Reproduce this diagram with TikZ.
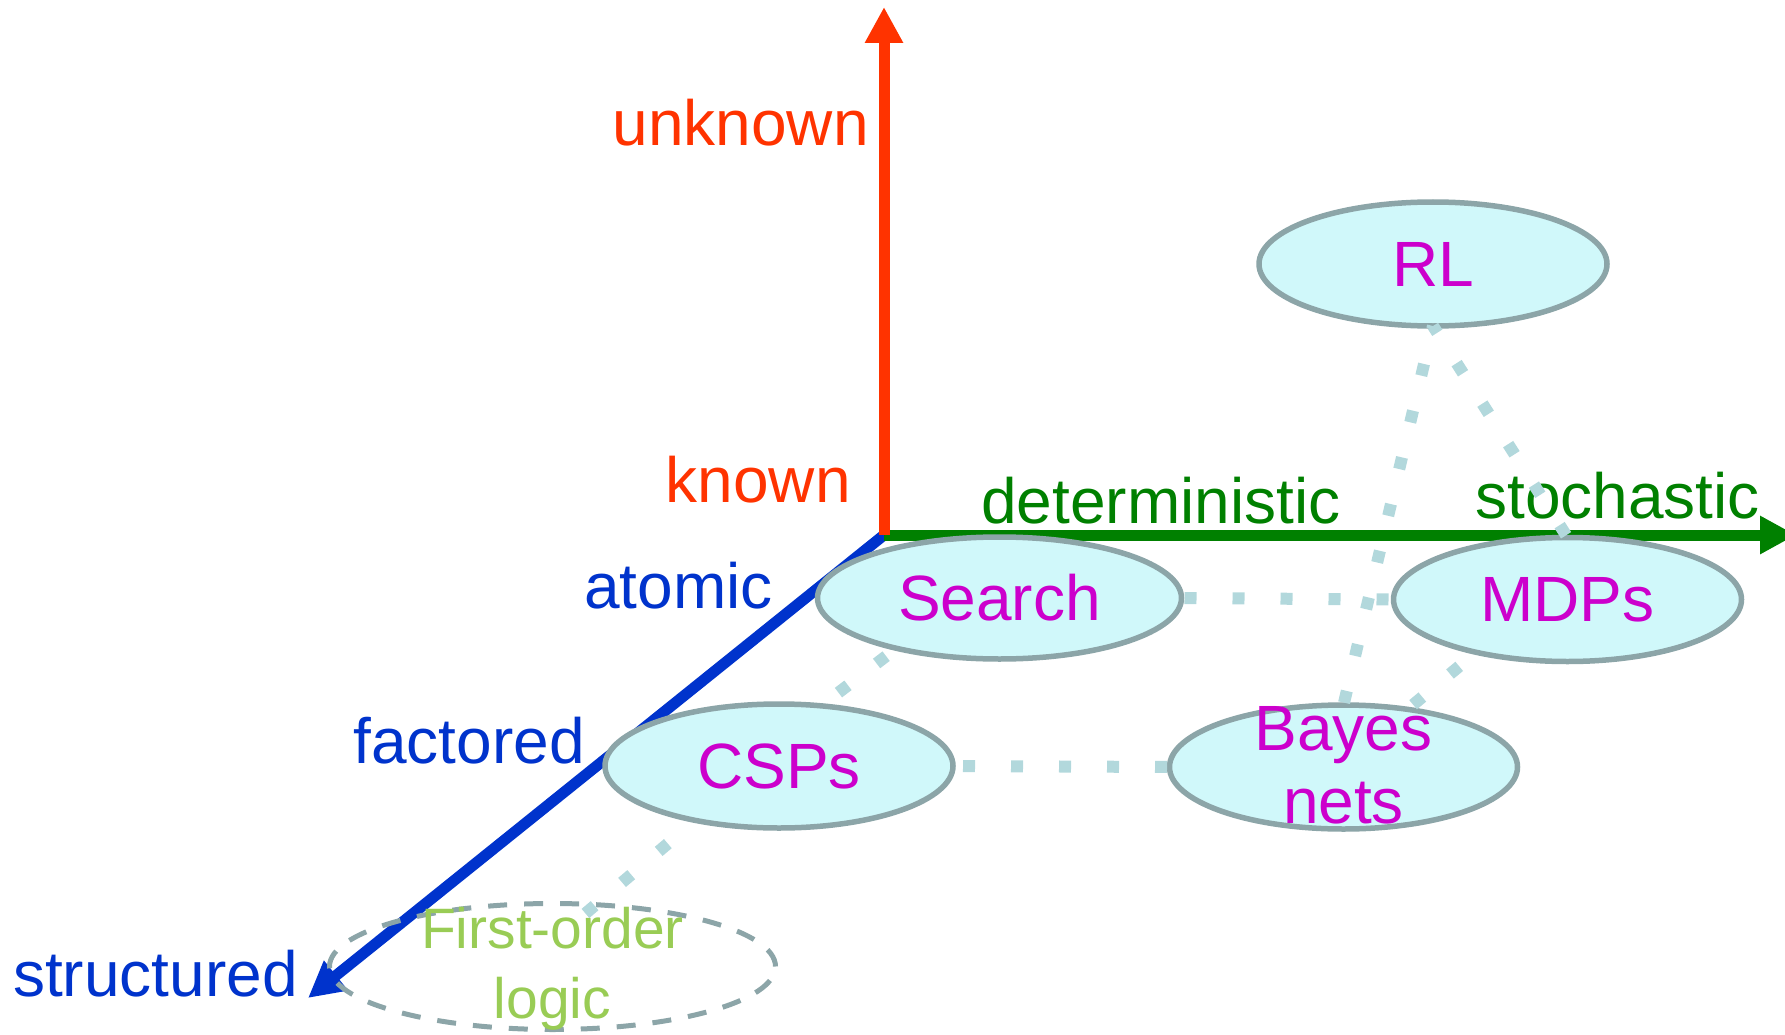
\documentclass[tikz,border=0pt]{standalone}
\usepackage{fontspec}
\setmainfont{Liberation Sans}
\usetikzlibrary{arrows.meta,shapes.geometric}

\definecolor{axisred}{RGB}{255,51,0}
\definecolor{axisgreen}{RGB}{0,128,0}
\definecolor{axisblue}{RGB}{0,51,204}
\definecolor{bubblefill}{RGB}{208,248,250}
\definecolor{bubbleline}{RGB}{140,165,168}
\definecolor{linkcol}{RGB}{178,216,220}
\definecolor{methodcol}{RGB}{204,0,204}
\definecolor{logiccol}{RGB}{153,204,85}

\begin{document}
\begin{tikzpicture}[x=1pt,y=-1pt,
  axis/.style={line width=11pt,-{Triangle[length=36pt,width=36pt]}},
  axislabel/.style={font=\fontsize{64}{74}\selectfont,inner sep=0pt},
  bubble/.style={ellipse,draw=bubbleline,line width=5.5pt,fill=bubblefill,
    inner sep=0pt,outer sep=0pt,minimum width=348pt,minimum height=124pt,
    text=methodcol,font=\fontsize{64}{73}\selectfont},
  bubbletext/.style={text=methodcol,font=\fontsize{64}{73}\selectfont,
    align=center,inner sep=0pt},
  logicbubble/.style={ellipse,draw=bubbleline,line width=5pt,
    dash pattern=on 19pt off 17pt,inner sep=0pt,outer sep=0pt,
    minimum width=446pt,minimum height=126pt},
  logictext/.style={text=logiccol,font=\fontsize{57}{70}\selectfont,
    align=center,inner sep=0pt},
  link/.style={draw=linkcol,line width=12pt,dash pattern=on 12pt off 36pt},
]
\path[use as bounding box] (0,0) rectangle (1785,1035);

% axes
\coordinate (origin) at (884,535);
\coordinate (uptip) at (884,7);
\coordinate (righttip) at (1796,535);
\coordinate (downtip) at (308,998);
\draw[axis,axisblue] (origin) -- (downtip);
\draw[axis,axisgreen] (origin) -- (righttip);
\draw[axis,axisred] (origin) -- (uptip);

% axis labels
\node[axislabel,text=axisred,anchor=base east] (unknown) at (869,146) {unknown};
\node[axislabel,text=axisred,anchor=base east] (known) at (851,502) {known};
\node[axislabel,text=axisgreen,anchor=base west] (deterministic) at (981,523) {deterministic};
\node[axislabel,text=axisgreen,anchor=base west] (stochastic) at (1475,518) {stochastic};
\node[axislabel,text=axisblue,anchor=base east] (atomic) at (773,608) {atomic};
\node[axislabel,text=axisblue,anchor=base east] (factored) at (585,763) {factored};
\node[axislabel,text=axisblue,anchor=base west] (structured) at (13,996) {structured};

% model families
\node[bubble] (rl) at (1433,264) {RL};
\node[bubble,minimum width=364pt,minimum height=122pt] (search) at (999.5,598) {Search};
\node[bubble] (mdps) at (1567.5,599.5) {MDPs};
\node[bubble] (csps) at (779,766) {CSPs};
\node[bubble,label={[bubbletext,yshift=2pt]center:Bayes\\nets}] (bayes) at (1343.5,767) {};
\node[logicbubble,label={[logictext,yshift=-2pt]center:First-order\\logic}] (fol) at (552.5,966.5) {};

% relations between families
\draw[link,dash phase=4pt] (rl.south) -- (mdps.north);
\draw[link,dash phase=9pt] (rl.south) -- (bayes.north);
\draw[link,dash phase=45pt] (search.east) -- (mdps.west);
\draw[link,dash phase=38pt] (csps.east) -- (bayes.west);
\draw[link,dash phase=35pt] (search.206.6) -- (csps.55);
\draw[link,dash phase=26pt] (mdps.210.5) -- (bayes.42.4);
\draw[link,dash phase=12pt,shorten >=-16pt] (csps.213) -- (fol.55.5);
\end{tikzpicture}
\end{document}
